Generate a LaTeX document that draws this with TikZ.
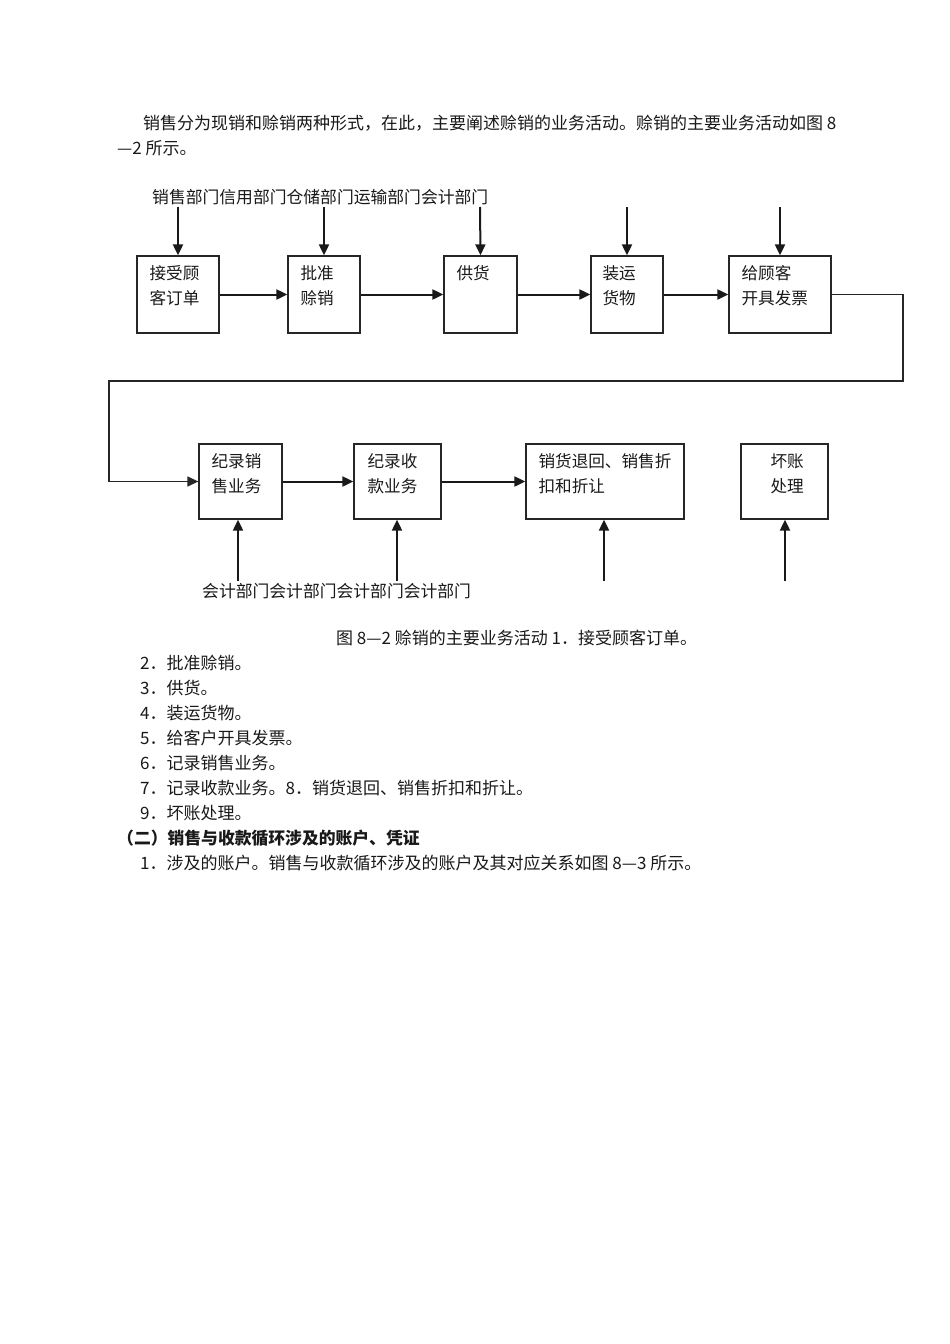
\documentclass[tikz,border=0pt]{standalone}
\usepackage{fontspec}
\setmainfont{Noto Sans CJK SC}
\usetikzlibrary{arrows.meta,positioning}

\tikzset{
  procbox/.style={draw=black!85, line width=1.3pt, inner sep=0pt},
  boxtext/.style={anchor=north west, inner sep=0pt, align=left, text=black!90,
    font=\fontsize{16.6}{25}\selectfont},
  bodytext/.style={anchor=west, inner sep=0pt, text=black!90,
    font=\fontsize{17}{25}\selectfont},
  flow/.style={line width=2pt, draw=black!90, -{Triangle[length=11pt,width=10pt]}},
  loopline/.style={line width=1.4pt, draw=black!85, -{Triangle[length=11pt,width=10pt]}}
}

\begin{document}
\begin{tikzpicture}[x=1pt,y=-1pt]
  %%%%% page %%%%%
  \useasboundingbox[fill=white] (0,0) rectangle (950,1344);

  \node[bodytext] (intro1) at (143,123) {销售分为现销和赊销两种形式，在此，主要阐述赊销的业务活动。赊销的主要业务活动如图 8};
  \node[bodytext] (intro2) at (117,148) {—2 所示。};

  %%%%% first row %%%%%
  \node[bodytext, font=\fontsize{16.8}{25}\selectfont] (deptTop) at (152,197) {销售部门信用部门仓储部门运输部门会计部门};

  \node[procbox, minimum width=82, minimum height=77] (b1) at (178,294.5) {};
  \node[procbox, minimum width=72, minimum height=77] (b2) at (324,294.5) {};
  \node[procbox, minimum width=73, minimum height=77] (b3) at (480.5,294.5) {};
  \node[procbox, minimum width=72, minimum height=77] (b4) at (627,294.5) {};
  \node[procbox, minimum width=102, minimum height=77] (b5) at (780,294.5) {};

  \node[boxtext] (t1) at ([shift={(13,10)}]b1.north west) {接受顾\\客订单};
  \node[boxtext] (t2) at ([shift={(13,10)}]b2.north west) {批准\\赊销};
  \node[boxtext] (t3) at ([shift={(13,10)}]b3.north west) {供货};
  \node[boxtext] (t4) at ([shift={(12,10)}]b4.north west) {装运\\货物};
  \node[boxtext] (t5) at ([shift={(13,10)}]b5.north west) {给顾客\\开具发票};

  \coordinate (in1) at (178,207);
  \coordinate (in2) at (324,207);
  \coordinate (in3) at (480,207);
  \coordinate (in4) at (627,207);
  \coordinate (in5) at (780,207);
  \foreach \i in {1,...,5}
    \draw[flow] (in\i) -- (b\i.north);

  \draw[flow] (b1) -- (b2);
  \draw[flow] (b2) -- (b3);
  \draw[flow] (b3) -- (b4);
  \draw[flow] (b4) -- (b5);

  %%%%% second row %%%%%
  \node[procbox, minimum width=83, minimum height=75] (b6) at (240.5,481.5) {};
  \node[procbox, minimum width=87, minimum height=75] (b7) at (397.5,481.5) {};
  \node[procbox, minimum width=158, minimum height=75] (b8) at (605,481.5) {};
  \node[procbox, minimum width=87, minimum height=75] (b9) at (784.5,481.5) {};

  \node[boxtext] (t6) at ([shift={(13,10)}]b6.north west) {纪录销\\售业务};
  \node[boxtext] (t7) at ([shift={(14,10)}]b7.north west) {纪录收\\款业务};
  \node[boxtext] (t8) at ([shift={(13,10)}]b8.north west) {销货退回、销售折\\扣和折让};
  \node[boxtext] (t9) at ([shift={(30,10)}]b9.north west) {坏账\\处理};

  \coordinate (turnR) at (903,381);
  \coordinate (turnL) at (109,381);
  \draw[loopline] (b5.east) -| (turnR) -| (turnL) |- (b6.west);

  \draw[flow] (b6) -- (b7);
  \draw[flow] (b7) -- (b8);

  \coordinate (up6) at (238,581);
  \coordinate (up7) at (397,581);
  \coordinate (up8) at (604,581);
  \coordinate (up9) at (785,581);
  \foreach \i in {6,...,9}
    \draw[flow] (up\i) -- (up\i |- b\i.south);

  \node[bodytext, font=\fontsize{16.8}{25}\selectfont] (deptBot) at (202,591) {会计部门会计部门会计部门会计部门};

  %%%%% text below %%%%%
  \node[bodytext] (caption) at (336,638) {图 8—2 赊销的主要业务活动 1．接受顾客订单。};
  \node[bodytext] (item2) at (140,663) {2．批准赊销。};
  \node[bodytext] (item3) at (140,688) {3．供货。};
  \node[bodytext] (item4) at (140,713) {4．装运货物。};
  \node[bodytext] (item5) at (140,738) {5．给客户开具发票。};
  \node[bodytext] (item6) at (140,763) {6．记录销售业务。};
  \node[bodytext] (item7) at (140,788) {7．记录收款业务。8．销货退回、销售折扣和折让。};
  \node[bodytext] (item9) at (140,813) {9．坏账处理。};
  \node[bodytext, font=\fontsize{16.8}{25}\selectfont\bfseries] (head2) at (117,838) {（二）销售与收款循环涉及的账户、凭证};
  \node[bodytext] (sub1) at (140,863) {1．涉及的账户。销售与收款循环涉及的账户及其对应关系如图 8—3 所示。};
\end{tikzpicture}
\end{document}
